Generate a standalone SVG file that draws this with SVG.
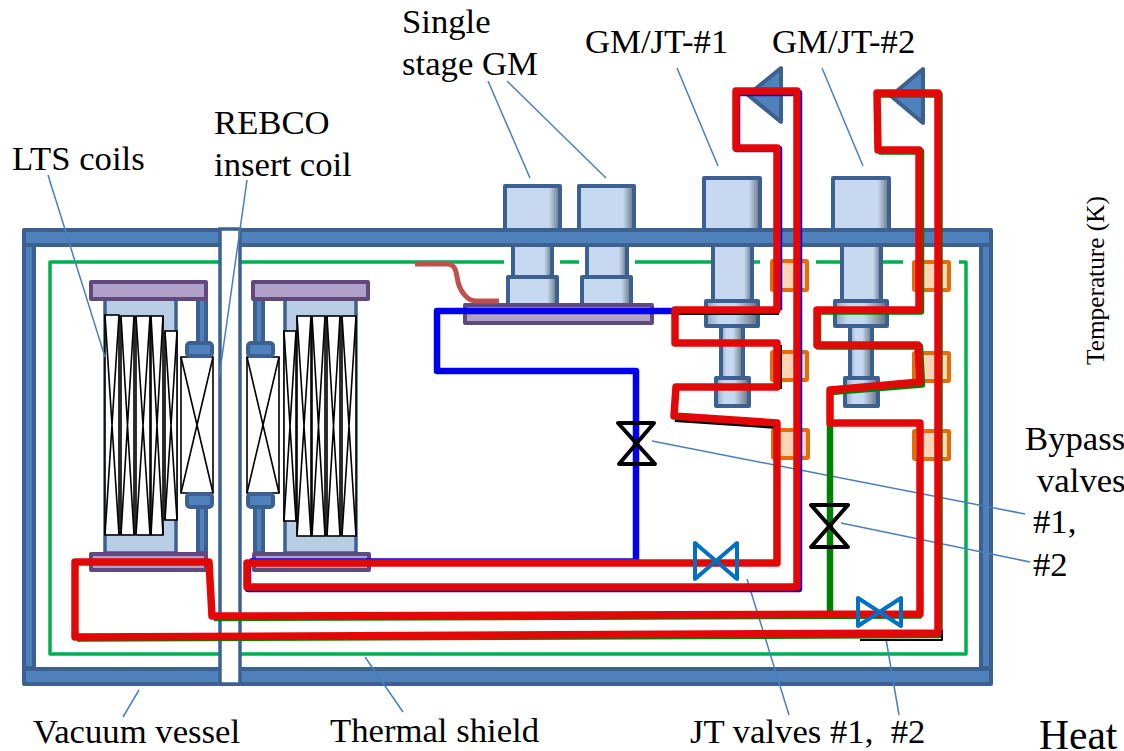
<svg xmlns="http://www.w3.org/2000/svg" width="1124" height="751" viewBox="0 0 1124 751">
<style>
text{font-family:"Liberation Serif","Times New Roman",serif;font-size:34.7px;fill:#000;white-space:pre}
.steel{fill:#4f81bd;stroke:#3c6090;stroke-width:4;stroke-linejoin:round}
.flange{fill:#b1a0c7;stroke:#604a7b;stroke-width:4;stroke-linejoin:round}
.body{fill:#b9cde5;stroke:#3c6090;stroke-width:3.5}
.coil{fill:#fff;stroke:#000;stroke-width:1.6}
.h1{fill:url(#g1);stroke:#3c6090;stroke-width:4;stroke-linejoin:round}
.h2{fill:url(#g2);stroke:#3c6090;stroke-width:4;stroke-linejoin:round}
.orange{fill:#fcd5b5;stroke:#e46c0a;stroke-width:4;stroke-linejoin:round}
.shield{fill:none;stroke:#00b050;stroke-width:3.5;stroke-linejoin:round}
.lead{fill:none;stroke:#4a7ebb;stroke-width:1.5}
.red{fill:none;stroke:#e20808;stroke-width:7.5;stroke-linejoin:round}
.blue{fill:none;stroke:#0000f0;stroke-width:6.5;stroke-linejoin:round}
.green{fill:none;stroke:#008000;stroke-width:6.5;stroke-linejoin:round}
.blk{fill:none;stroke:#000;stroke-width:6;stroke-linejoin:round}
.bv{fill:none;stroke:#000;stroke-width:4;stroke-linejoin:round;stroke-linecap:round}
.jt{fill:none;stroke:#0070c0;stroke-width:4;stroke-linejoin:round;stroke-linecap:round}
.tri{fill:#4f81bd;stroke:#3c6090;stroke-width:4;stroke-linejoin:round}
</style>
<defs>
<linearGradient id="g1" x1="0" x2="1" y1="0" y2="0"><stop offset="0" stop-color="#c6d9f1"/><stop offset=".8" stop-color="#c6d9f1"/><stop offset="1" stop-color="#64717f"/></linearGradient>
<linearGradient id="g2" x1="0" x2="1" y1="0" y2="0"><stop offset="0" stop-color="#8ea3bd"/><stop offset=".25" stop-color="#c6d9f1"/><stop offset=".55" stop-color="#c6d9f1"/><stop offset="1" stop-color="#64717f"/></linearGradient>
</defs>
<rect width="1124" height="751" fill="#fff"/>

<g id="thermal-shield">
<path class="shield" d="M415 262H50V654H966V262H959"/>
<path class="shield" d="M415 262H504M560 262H579M635 262H760M816 262H903"/>
</g>

<g id="gm-head-1"><rect class="h1" x="505" y="186" width="55" height="44"/><rect class="h1" x="513" y="245" width="39" height="32"/><rect class="h1" x="508" y="277" width="49" height="28"/></g>
<g id="gm-head-2"><rect class="h1" x="579" y="186" width="55" height="44"/><rect class="h1" x="587" y="245" width="40" height="32"/><rect class="h1" x="582" y="277" width="49" height="28"/></g>
<g id="gm-plate"><rect class="flange" x="465" y="305" width="187" height="18"/></g>

<g id="gmjt-head-1"><rect class="h1" x="704" y="178" width="56" height="52"/><rect class="h1" x="713" y="245" width="39" height="56"/><rect class="h2" x="706" y="301" width="52" height="25"/><rect class="h2" x="721" y="326" width="22" height="52"/><rect class="h2" x="716" y="378" width="33" height="28"/></g>
<g id="gmjt-head-2"><rect class="h1" x="833" y="178" width="56" height="52"/><rect class="h1" x="842" y="245" width="39" height="56"/><rect class="h2" x="835" y="301" width="52" height="25"/><rect class="h2" x="850" y="326" width="22" height="52"/><rect class="h2" x="845" y="378" width="33" height="28"/></g>

<g id="vacuum-vessel">
<rect class="steel" x="24" y="245" width="10" height="423"/>
<rect class="steel" x="981" y="245" width="10" height="423"/>
<rect class="steel" x="24" y="230" width="967" height="15"/>
<rect class="steel" x="24" y="669" width="967" height="15"/>
<rect x="220" y="229" width="20" height="455" fill="#fff" stroke="#3c6090" stroke-width="3.5"/>
</g>

<g id="lts-coils-left">
<rect class="body" x="105" y="299" width="71" height="254"/>
<rect class="steel" x="198" y="299" width="8" height="44"/>
<rect class="steel" x="198" y="507" width="8" height="46"/>
<rect class="coil" x="105" y="315" width="14" height="220"/><path class="coil" d="M105 315L119 535M119 315L105 535"/>
<rect class="coil" x="121" y="316" width="13" height="219"/><path class="coil" d="M121 316L134 535M134 316L121 535"/>
<rect class="coil" x="136" y="316" width="14" height="219"/><path class="coil" d="M136 316L150 535M150 316L136 535"/>
<rect class="coil" x="151" y="316" width="12" height="219"/><path class="coil" d="M151 316L163 535M163 316L151 535"/>
<rect class="coil" x="165" y="331" width="12" height="189"/><path class="coil" d="M165 331L177 520M177 331L165 520"/>
<rect class="flange" x="91" y="282" width="115" height="17"/>
<rect class="flange" x="91" y="554" width="115" height="16"/>
</g>
<g id="rebco-coil-left">
<rect class="coil" x="181" y="357" width="32" height="136"/><path class="coil" d="M181 357L213 493M213 357L181 493"/>
<rect class="steel" x="187" y="343" width="25" height="13" rx="3"/>
<rect class="steel" x="187" y="494" width="25" height="13" rx="3"/>
</g>
<g id="lts-coils-right">
<rect class="body" x="285" y="299" width="71" height="254"/>
<rect class="steel" x="255" y="299" width="8" height="44"/>
<rect class="steel" x="255" y="507" width="8" height="46"/>
<rect class="coil" x="284" y="331" width="12" height="190"/><path class="coil" d="M284 331L296 521M296 331L284 521"/>
<rect class="coil" x="297" y="316" width="14" height="220"/><path class="coil" d="M297 316L311 536M311 316L297 536"/>
<rect class="coil" x="312" y="316" width="13" height="220"/><path class="coil" d="M312 316L325 536M325 316L312 536"/>
<rect class="coil" x="327" y="316" width="13" height="220"/><path class="coil" d="M327 316L340 536M340 316L327 536"/>
<rect class="coil" x="342" y="316" width="14" height="220"/><path class="coil" d="M342 316L356 536M356 316L342 536"/>
<rect class="flange" x="253" y="282" width="115" height="17"/>
<rect class="flange" x="254" y="554" width="115" height="16"/>
</g>
<g id="rebco-coil-right">
<rect class="coil" x="247" y="357" width="32" height="136"/><path class="coil" d="M247 357L279 493M279 357L247 493"/>
<rect class="steel" x="248" y="343" width="25" height="13" rx="3"/>
<rect class="steel" x="248" y="494" width="25" height="13" rx="3"/>
</g>

<g id="thermal-anchors">
<rect class="orange" x="772" y="261" width="35" height="29" rx="1"/>
<rect class="orange" x="772" y="352" width="35" height="28" rx="1"/>
<rect class="orange" x="773" y="430" width="35" height="28" rx="1"/>
<rect class="orange" x="914" y="262" width="35" height="28" rx="1"/>
<rect class="orange" x="914" y="353" width="35" height="28" rx="1"/>
<rect class="orange" x="914" y="431" width="35" height="28" rx="1"/>
</g>

<g id="compressor-1"><path class="tri" d="M781 68V122L748 95Z"/></g>
<g id="compressor-2"><path class="tri" d="M923 69V123L891 96Z"/></g>

<g id="connectors">
<path class="lead" d="M48 175L105 357"/>
<path class="lead" d="M247 180L219 378"/>
<path class="lead" d="M488 81L530 178"/>
<path class="lead" d="M507 81L606 178"/>
<path class="lead" d="M677 68L718 166"/>
<path class="lead" d="M822 68L863 166"/>
<path class="lead" d="M652 441L1025 514"/>
<path class="lead" d="M841 523L1030 562"/>
<path class="lead" d="M747 579L789 715"/>
<path class="lead" d="M886 639L899 715"/>
<path class="lead" d="M139 690L123 717"/>
<path class="lead" d="M365 657L403 712"/>
<path d="M415 264H447C456 264 456 272 458 282C461 293 468 301 476 301H499" fill="none" stroke="#c0504d" stroke-width="5"/>
<path class="blue" d="M680 311H437V371H636V561.500H250"/>
<path class="blue" d="M779 310V149H737V93H799V589H248V565"/>
<path class="blk" d="M677 312H779M779 345V389M675 419L778 426"/>
<path class="green" d="M878 94.500H939.500V635L77 638.500M214 618L921.500 615.500M830 424V615"/>
<path class="green" d="M831 392L922 384.500L920 346.500H818V311.500H921V151.500H879"/>
<path class="blk" d="M860 640H942V630" style="stroke-width:2"/>
<path class="red" d="M247 563H777V423L674 416L676 387H777V343H675V310H777V148H736V91H797V587H247Z"/>
<path class="red" d="M877 93H938V633L75 637V562H209L212 616L920 614V423H830V390L920 382L918 345H817V310H919V150H878Z"/>
</g>

<g id="bypass-valve-1"><path class="bv" d="M618 423H654L619 464H655Z"/></g>
<g id="bypass-valve-2"><path class="bv" d="M811 505H848L811 547H848Z"/></g>
<g id="jt-valve-1"><path class="jt" d="M695 543V579L737 543V579Z"/></g>
<g id="jt-valve-2"><path class="jt" d="M858 626V598L901 626V598Z" style="fill:none"/></g>

<g id="labels">
<text x="402" y="33">Single</text>
<text x="402" y="75">stage GM</text>
<text x="585" y="53">GM/JT-#1</text>
<text x="772" y="53">GM/JT-#2</text>
<text x="214" y="134">REBCO</text>
<text x="214" y="176">insert coil</text>
<text x="12" y="170">LTS coils</text>
<text x="1025" y="450">Bypass</text>
<text x="1037" y="492">valves</text>
<text x="1033" y="533">#1,</text>
<text x="1033" y="576">#2</text>
<text x="33" y="743">Vacuum vessel</text>
<text x="330" y="742">Thermal shield</text>
<text x="690" y="743">JT valves #1,  #2</text>
<text x="1039" y="749" style="font-size:41.500px">Heat</text>
<text transform="translate(1104 365) rotate(-90)" style="font-size:25.300px">Temperature (K)</text>
</g>
</svg>
